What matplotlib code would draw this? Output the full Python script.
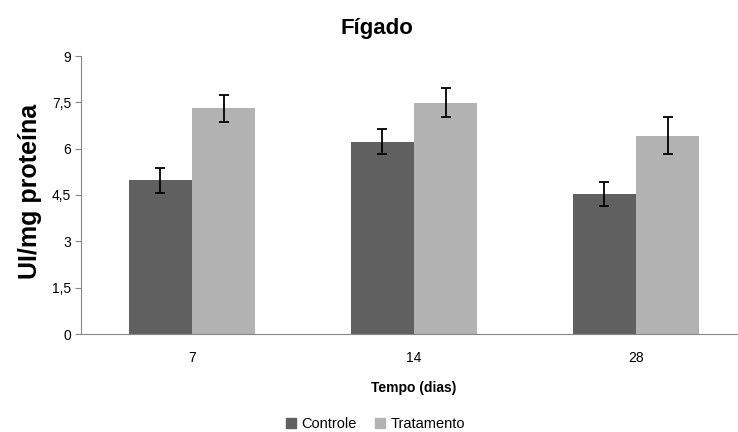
import numpy as np
import matplotlib.pyplot as plt
from matplotlib.lines import Line2D

plt.rcParams['font.family'] = ['Liberation Sans', 'DejaVu Sans']

dias = ['7', '14', '28']
controle = [4.97, 6.23, 4.53]
controle_err = [0.39, 0.40, 0.39]
tratamento = [7.31, 7.48, 6.42]
tratamento_err = [0.44, 0.47, 0.59]

cor_c = '#606060'
cor_t = '#b2b2b2'
cinza = '#868686'

fig = plt.figure(figsize=(7.38, 4.32), dpi=100)
ax = fig.add_axes([81 / 738, 98 / 432, 666 / 738, 278 / 432])

x = np.arange(len(dias))
w = 0.285
ekw = dict(elinewidth=1.3, capthick=1.3, ecolor='black')
ax.bar(x - w / 2, controle, w, yerr=controle_err, color=cor_c, capsize=3.5,
       error_kw=ekw, label='Controle')
ax.bar(x + w / 2, tratamento, w, yerr=tratamento_err, color=cor_t, capsize=3.5,
       error_kw=ekw, label='Tratamento')

ax.set_xlim(-0.5, 2.5)
ax.set_ylim(0, 9)
ax.set_yticks([0, 1.5, 3, 4.5, 6, 7.5, 9])
ax.set_yticklabels(['0', '1,5', '3', '4,5', '6', '7,5', '9'])
ax.set_xticks(x)
ax.set_xticklabels(dias)
ax.tick_params(axis='y', length=4, color=cinza, labelsize=10, pad=3)
ax.tick_params(axis='x', length=0, labelsize=10, pad=12)
for s in ['top', 'right']:
    ax.spines[s].set_visible(False)
for s in ['left', 'bottom']:
    ax.spines[s].set_color(cinza)

ax.set_xlabel('Tempo (dias)', fontsize=10, fontweight='bold', labelpad=12)
fig.text(0.04, 0.557, 'UI/mg proteína', rotation=90, fontsize=18,
         fontweight='bold', ha='center', va='center')
fig.text(0.511, 0.935, 'Fígado', fontsize=16, fontweight='bold',
         ha='center', va='center')

handles = [Line2D([], [], marker='s', ls='', color=cor_c, markersize=7),
           Line2D([], [], marker='s', ls='', color=cor_t, markersize=7)]
fig.legend(handles, ['Controle', 'Tratamento'], loc='center',
           bbox_to_anchor=(0.508, 0.018), ncol=2, frameon=False, fontsize=10.5,
           handletextpad=0.3, columnspacing=1.2, handlelength=0.8)

fig.savefig('out.png', dpi=100)
